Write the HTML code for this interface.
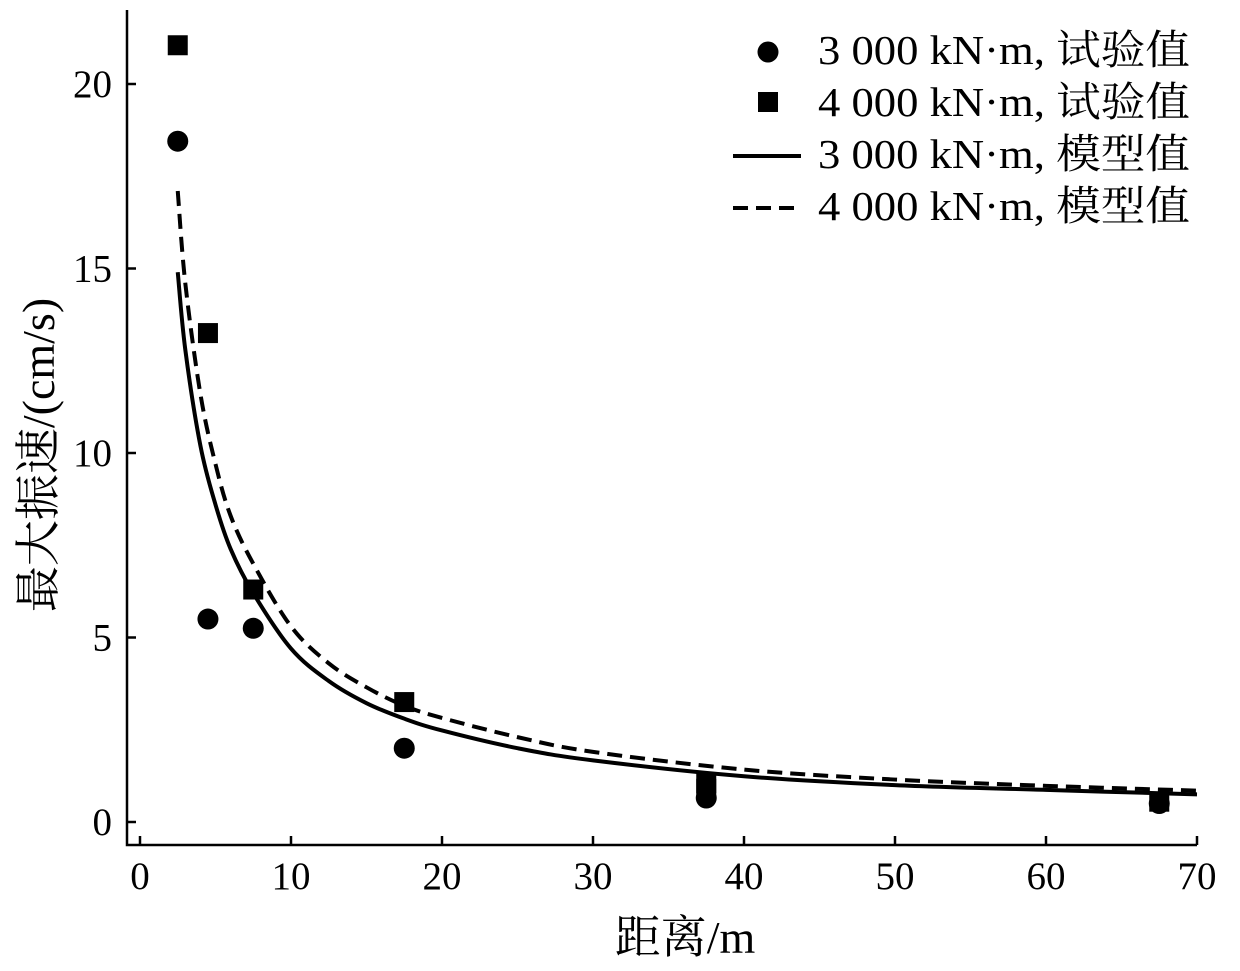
<!DOCTYPE html>
<html><head><meta charset="utf-8">
<style>
html,body{margin:0;padding:0;background:#fff;}
svg{display:block;font-family:"Liberation Serif","Noto Serif CJK SC","Noto Sans CJK SC",serif;}
</style></head>
<body>
<svg id="chart" width="1240" height="971" viewBox="0 0 1240 971"></svg>
<script>
const xTicks=[0,10,20,30,40,50,60,70];
const yTicks=[0,5,10,15,20];
const obsX=[2.5,4.5,7.5,17.5,37.5,67.5];
const obs3000=[18.45,5.5,5.25,2.0,0.65,0.5];
const obs4000X=[2.5,4.5,7.5,17.5,37.5,37.5,67.5];
const obs4000=[21.05,13.25,6.3,3.25,0.9,1.05,0.55];
const modelX=[2.5,3,4,5,6,7.5,10,12.5,15,17.5,20,25,30,40,50,60,70];
const model3000=[14.9,12.8,10.2,8.6,7.4,6.2,4.7,3.82,3.22,2.8,2.48,2.0,1.67,1.24,1.0,0.87,0.75];
const model4000=[17.1,14.6,11.6,9.7,8.3,7.0,5.3,4.3,3.65,3.15,2.82,2.3,1.9,1.42,1.15,0.98,0.85];

const svg=document.getElementById('chart');
const NS='http://www.w3.org/2000/svg';
const X=v=>140+v*(1197-140)/70;
const Y=v=>822-v*(822-84)/20;
function mk(tag,attrs,parent){const e=document.createElementNS(NS,tag);for(const k in attrs)e.setAttribute(k,attrs[k]);(parent||svg).appendChild(e);return e;}

let a=mk('path',{d:'M127,10 L127,845 L1197,845',fill:'none',stroke:'#000','stroke-width':2.5});


xTicks.forEach(t=>{
  const l=mk('line',{x1:X(t),x2:X(t),y1:845,y2:836,stroke:'#000','stroke-width':2.5});
  
  
  const tx=mk('text',{x:X(t),y:889,'font-size':39,'text-anchor':'middle'});
  tx.textContent=t;
  
  
});
yTicks.forEach(t=>{
  const l=mk('line',{x1:127,x2:136,y1:Y(t),y2:Y(t),stroke:'#000','stroke-width':2.5});
  
  
  const tx=mk('text',{x:112,y:Y(t)+13,'font-size':39,'text-anchor':'end'});
  tx.textContent=t;
  
  
});
let xt=mk('text',{x:685,y:953,'font-size':46,'text-anchor':'middle'});
xt.textContent='距离/m';


let yt=mk('text',{x:0,y:0,'font-size':46,'text-anchor':'middle',transform:'translate(54,455) rotate(-90)'});
yt.textContent='最大振速/(cm/s)';



function curve(xs,ys){
  const p=xs.map((x,i)=>[X(x),Y(ys[i])]);
  let d='M'+p[0][0]+','+p[0][1];
  for(let i=0;i<p.length-1;i++){
    const p0=p[Math.max(0,i-1)],p1=p[i],p2=p[i+1],p3=p[Math.min(p.length-1,i+2)];
    const c1=[p1[0]+(p2[0]-p0[0])/6,p1[1]+(p2[1]-p0[1])/6];
    const c2=[p2[0]-(p3[0]-p1[0])/6,p2[1]-(p3[1]-p1[1])/6];
    d+=' C'+c1+' '+c2+' '+p2;
  }
  return d;
}
let s1=mk('path',{d:curve(modelX,model3000),fill:'none',stroke:'#000','stroke-width':4});


let s2=mk('path',{d:curve(modelX,model4000),fill:'none',stroke:'#000','stroke-width':4,'stroke-dasharray':'15,8'});



obsX.forEach((x,i)=>{
  const c=mk('circle',{cx:X(x),cy:Y(obs3000[i]),r:10.5,fill:'#000'});
  
  
});
obs4000X.forEach((x,i)=>{
  const r=mk('rect',{x:X(x)-10,y:Y(obs4000[i])-10,width:20,height:20,fill:'#000'});
  
  
});

const leg=mk('g',{});


const labels=['3 000 kN·m, 试验值','4 000 kN·m, 试验值','3 000 kN·m, 模型值','4 000 kN·m, 模型值'];
labels.forEach((t,i)=>{
  const y=48+i*52;
  if(i===0){const m=mk('circle',{cx:768,cy:y+4,r:10.5,fill:'#000'},leg);}
  if(i===1){const m=mk('rect',{x:758,y:y-8,width:20,height:20,fill:'#000'},leg);}
  if(i===2){const m=mk('line',{x1:733,x2:801,y1:y+4,y2:y+4,stroke:'#000','stroke-width':4},leg);}
  if(i===3){const m=mk('line',{x1:733,x2:801,y1:y+4,y2:y+4,stroke:'#000','stroke-width':4,'stroke-dasharray':'15,8'},leg);}
  const tx=mk('text',{x:818,y:y+16,'font-size':41,textLength:372,lengthAdjust:'spacingAndGlyphs'},leg);
  tx.textContent=t;
  
  
});
</script>
</body></html>
